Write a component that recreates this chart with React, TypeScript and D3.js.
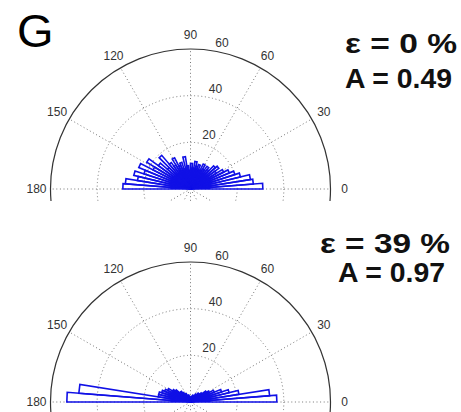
import React from "react";
import * as d3 from "d3";

// Rose histogram counts, 40 bins of 4.5° covering 0°–180°
const binWidthDeg = 4.5;
const countsTop = [31, 27, 26, 22, 20, 18, 16, 13, 15, 14, 11, 12, 10, 12, 9, 11, 10, 12, 9, 11,
  8, 10, 14, 9, 12, 11, 15, 12, 14, 19, 13, 17, 22, 18, 24, 21, 25, 23, 28, 29];
const countsBottom = [37, 34, 21, 17, 14, 11, 9, 8, 6, 5, 5, 4, 4, 3, 3, 3, 2.5, 2, 2, 2,
  2, 2, 2.5, 3, 3, 3, 4, 4, 5, 6, 6, 8, 9, 11, 12, 13, 14, 14, 48, 53];
const radialTicks = [20, 40, 60];
const angleTicks = [0, 30, 60, 90, 120, 150, 180, 210, 240, 270, 300, 330];
const angleLabels = [0, 30, 60, 90, 120, 150, 180];
const panelLetter = "G";
const panelTitles = [
  { eps: "ε = 0 %", amp: "A = 0.49" },
  { eps: "ε = 39 %", amp: "A = 0.97" },
];

const W = 461;
const H = 412;
const R = 140;
const rmax = 60;
const FONT = "'Liberation Sans', Arial, Helvetica, sans-serif";

function Polar({ cx, cy, counts, clipId, clipBottom }: { cx: number; cy: number; counts: number[]; clipId: string; clipBottom: number }) {
  const r = d3.scaleLinear().domain([0, rmax]).range([0, R]);
  const pt = (rv: number, deg: number): [number, number] => {
    const a = (deg * Math.PI) / 180;
    return [cx + r(rv) * Math.cos(a), cy - r(rv) * Math.sin(a)];
  };
  const roses = counts.map((c, i) => {
    const p = d3.path();
    const a1 = pt(c, i * binWidthDeg);
    const a2 = pt(c, (i + 1) * binWidthDeg);
    p.moveTo(cx, cy);
    p.lineTo(a1[0], a1[1]);
    p.lineTo(a2[0], a2[1]);
    p.closePath();
    return p.toString();
  });
  return (
    <g>
      <defs>
        <clipPath id={clipId}>
          <rect x={0} y={0} width={W} height={clipBottom} />
        </clipPath>
      </defs>
      <g clipPath={`url(#${clipId})`}>
        {radialTicks.slice(0, -1).map((t) => (
          <circle key={t} cx={cx} cy={cy} r={r(t)} fill="none" stroke="#777" strokeWidth={1} strokeDasharray="1 2.6" />
        ))}
        {angleTicks.map((a) => {
          const e = pt(rmax, a);
          return <line key={a} x1={cx} y1={cy} x2={e[0]} y2={e[1]} stroke="#777" strokeWidth={1} strokeDasharray="1 2.6" />;
        })}
        <circle cx={cx} cy={cy} r={r(rmax)} fill="none" stroke="#333" strokeWidth={1.2} />
        {roses.map((d, i) => (
          <path key={i} d={d} fill="none" stroke="#1010e6" strokeWidth={1.6} strokeLinejoin="miter" />
        ))}
      </g>
      {angleLabels.map((a) => {
        const p = pt(rmax * 1.1, a);
        return (
          <text key={a} x={p[0]} y={p[1]} textAnchor="middle" dominantBaseline="central" fontFamily={FONT} fontSize={12} fill="#333">
            {a}
          </text>
        );
      })}
      {radialTicks.map((t) => {
        const p = pt(t + rmax / 60, 82);
        return (
          <text key={t} x={p[0] + 5} y={p[1] - 1} fontFamily={FONT} fontSize={12} fill="#333">
            {t}
          </text>
        );
      })}
    </g>
  );
}

export default function App() {
  return (
    <svg width={W} height={H} style={{ position: "absolute", left: 0, top: 0, background: "#fff" }}>
      <rect x={0} y={0} width={W} height={H} fill="#fff" />
      <text x={17} y={47} fontFamily={FONT} fontSize={47} fill="#000">{panelLetter}</text>
      <Polar cx={190.5} cy={189} counts={countsTop} clipId="clipTop" clipBottom={201} />
      <Polar cx={190.5} cy={402} counts={countsBottom} clipId="clipBot" clipBottom={H} />
      <text x={345} y={53} fontFamily={FONT} fontSize={28} fontWeight="bold" fill="#111" textLength={112} lengthAdjust="spacingAndGlyphs">{panelTitles[0].eps}</text>
      <text x={345} y={88} fontFamily={FONT} fontSize={28} fontWeight="bold" fill="#111" textLength={107} lengthAdjust="spacingAndGlyphs">{panelTitles[0].amp}</text>
      <text x={320} y={253} fontFamily={FONT} fontSize={28} fontWeight="bold" fill="#111" textLength={130} lengthAdjust="spacingAndGlyphs">{panelTitles[1].eps}</text>
      <text x={338} y={282} fontFamily={FONT} fontSize={28} fontWeight="bold" fill="#111" textLength={107} lengthAdjust="spacingAndGlyphs">{panelTitles[1].amp}</text>
    </svg>
  );
}
